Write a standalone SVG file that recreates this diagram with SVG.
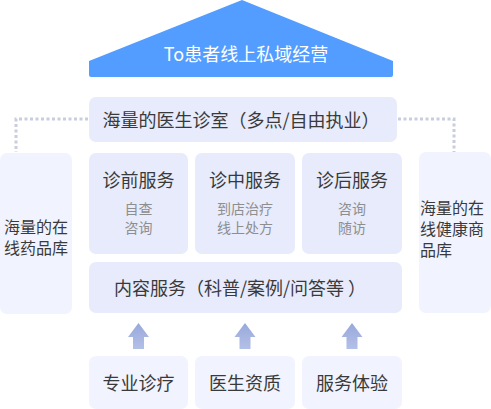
<svg xmlns="http://www.w3.org/2000/svg" width="491" height="409" viewBox="0 0 491 409">
<defs>
<style>
text{font-family:"Noto Sans CJK SC","Noto Sans",sans-serif;}
.box{fill:#E7EBFC;}
.side{fill:#F1F3FE;}
.t{font-size:18px;fill:#3A3A3A;text-anchor:middle;}
.s{font-size:14px;fill:#8E8E8E;text-anchor:middle;}
.l{font-size:16px;fill:#3A3A3A;}
.dot{fill:none;stroke:#C9CEDF;stroke-width:3;stroke-dasharray:3 2.5;}
.arr{fill:url(#ag);}
</style>
<linearGradient id="ag" x1="0" y1="0" x2="0" y2="1">
<stop offset="0" stop-color="#98A8DA"/>
<stop offset="1" stop-color="#B3C0E8"/>
</linearGradient>
</defs>
<g id="roof">
<path d="M242 0 L393 61 L393 75 Q393 77 391 77 L91 77 Q89 77 89 75 L89 61 Z" fill="#529DFF"/>
<text x="246" y="61" font-size="18" fill="#FFFFFF" text-anchor="middle">To患者线上私域经营</text>
</g>
<g id="connectors">
<path class="dot" d="M88 119 H16 V152"/>
<path class="dot" d="M398 119 H454 V152"/>
<path class="arr" d="M138.5 323 L149 337 L144 337 L144 349 L133 349 L133 337 L128 337 Z"/>
<path class="arr" d="M245 323 L255.5 337 L250.5 337 L250.5 349 L239.5 349 L239.5 337 L234.5 337 Z"/>
<path class="arr" d="M352 323 L362.5 337 L357.5 337 L357.5 349 L346.5 349 L346.5 337 L341.5 337 Z"/>
</g>
<g id="clinic">
<rect class="box" x="89" y="97" width="308" height="45" rx="7"/>
<text class="t" x="241" y="127">海量的医生诊室（多点/自由执业）</text>
</g>
<g id="pharmacy">
<rect class="side" x="0" y="153" width="72" height="161" rx="7"/>
<text class="l" x="4" y="233">海量的在</text>
<text class="l" x="4" y="254">线药品库</text>
</g>
<g id="health">
<rect class="side" x="419" y="152" width="72" height="161" rx="7"/>
<text class="l" x="420" y="214">海量的在</text>
<text class="l" x="420" y="235">线健康商</text>
<text class="l" x="420" y="256">品库</text>
</g>
<g id="pre">
<rect class="box" x="89" y="153" width="99" height="101" rx="7"/>
<text class="t" x="138.5" y="187">诊前服务</text>
<text class="s" x="138.5" y="214">自查</text>
<text class="s" x="138.5" y="233">咨询</text>
</g>
<g id="during">
<rect class="box" x="195" y="153" width="100" height="101" rx="7"/>
<text class="t" x="245" y="187">诊中服务</text>
<text class="s" x="245" y="214">到店治疗</text>
<text class="s" x="245" y="233">线上处方</text>
</g>
<g id="post">
<rect class="box" x="302" y="153" width="100" height="101" rx="7"/>
<text class="t" x="352" y="187">诊后服务</text>
<text class="s" x="352" y="214">咨询</text>
<text class="s" x="352" y="233">随访</text>
</g>
<g id="content">
<rect class="box" x="89" y="262" width="313" height="51" rx="7"/>
<text class="t" x="240" y="295">内容服务（科普/案例/问答等 ）</text>
</g>
<g id="b1">
<rect class="side" x="89" y="356" width="99" height="53" rx="7"/>
<text class="t" x="138.5" y="390">专业诊疗</text>
</g>
<g id="b2">
<rect class="side" x="195" y="356" width="100" height="53" rx="7"/>
<text class="t" x="245" y="390">医生资质</text>
</g>
<g id="b3">
<rect class="side" x="302" y="356" width="100" height="53" rx="7"/>
<text class="t" x="352" y="390">服务体验</text>
</g>
</svg>
